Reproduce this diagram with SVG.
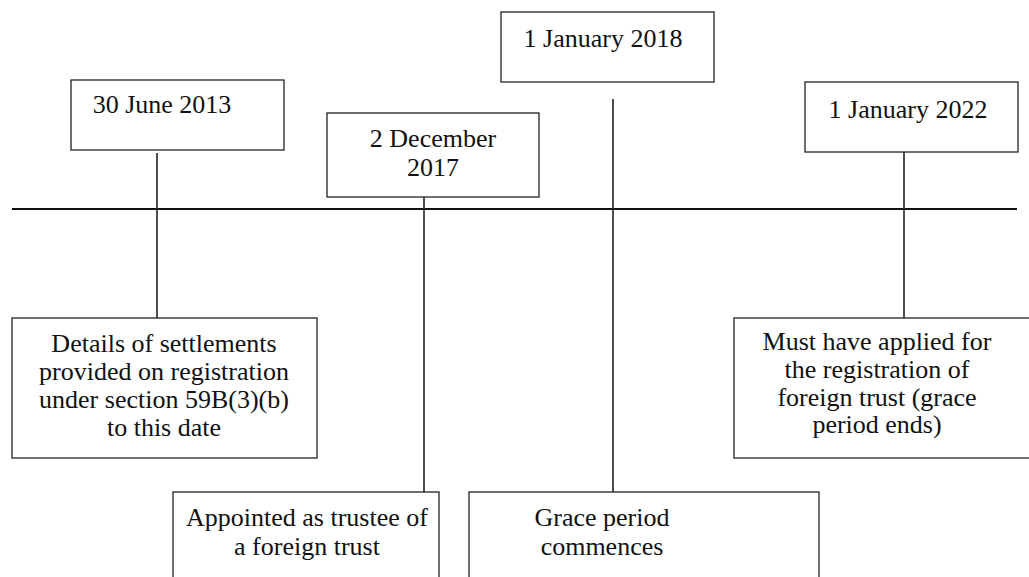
<svg xmlns="http://www.w3.org/2000/svg" width="1029" height="577" viewBox="0 0 1029 577">
<style>
.box{fill:#fff;stroke:#222;stroke-width:1.3}
.t{font-family:'Liberation Serif','Times New Roman','DejaVu Serif',serif;font-size:26px;fill:#111;text-anchor:middle}
.ln{stroke:#222;stroke-width:1.6;fill:none}
.axis{stroke:#111;stroke-width:2.2}
</style>
<rect width="1029" height="577" fill="#fff"/>
<g id="connectors">
<line class="axis" x1="12" y1="209" x2="1017" y2="209"/>
<line class="ln" x1="157" y1="153" x2="157" y2="318"/>
<line class="ln" x1="424" y1="197" x2="424" y2="492"/>
<line class="ln" x1="613" y1="99" x2="613" y2="492"/>
<line class="ln" x1="904" y1="152" x2="904" y2="318"/>
</g>
<g id="d2013">
<rect class="box" x="71" y="80" width="213" height="70"/>
<text class="t" x="162" y="113" font-family="Liberation Serif, serif">30 June 2013</text>
</g>
<g id="d2017">
<rect class="box" x="327" y="113" width="212" height="84"/>
<text class="t" x="433" y="147" font-family="Liberation Serif, serif">2 December</text>
<text class="t" x="433" y="176" font-family="Liberation Serif, serif">2017</text>
</g>
<g id="d2018">
<rect class="box" x="501" y="12" width="213" height="70"/>
<text class="t" x="603" y="47" font-family="Liberation Serif, serif">1 January 2018</text>
</g>
<g id="d2022">
<rect class="box" x="805" y="82" width="213" height="70"/>
<text class="t" x="908" y="118" font-family="Liberation Serif, serif">1 January 2022</text>
</g>
<g id="details">
<rect class="box" x="12" y="318" width="305" height="140"/>
<text class="t" x="164" y="352" font-family="Liberation Serif, serif">Details of settlements</text>
<text class="t" x="164" y="380" font-family="Liberation Serif, serif">provided on registration</text>
<text class="t" x="164" y="408" font-family="Liberation Serif, serif">under section 59B(3)(b)</text>
<text class="t" x="164" y="436" font-family="Liberation Serif, serif">to this date</text>
</g>
<g id="must">
<rect class="box" x="734" y="318" width="310" height="140"/>
<text class="t" x="877" y="350" font-family="Liberation Serif, serif">Must have applied for</text>
<text class="t" x="877" y="378" font-family="Liberation Serif, serif">the registration of</text>
<text class="t" x="877" y="406" font-family="Liberation Serif, serif">foreign trust (grace</text>
<text class="t" x="877" y="433" font-family="Liberation Serif, serif">period ends)</text>
</g>
<g id="appointed">
<rect class="box" x="173" y="492" width="266" height="100"/>
<text class="t" x="307" y="526" font-family="Liberation Serif, serif">Appointed as trustee of</text>
<text class="t" x="307" y="555" font-family="Liberation Serif, serif">a foreign trust</text>
</g>
<g id="grace">
<rect class="box" x="469" y="492" width="350" height="100"/>
<text class="t" x="602" y="526" font-family="Liberation Serif, serif">Grace period</text>
<text class="t" x="602" y="555" font-family="Liberation Serif, serif">commences</text>
</g>
</svg>
